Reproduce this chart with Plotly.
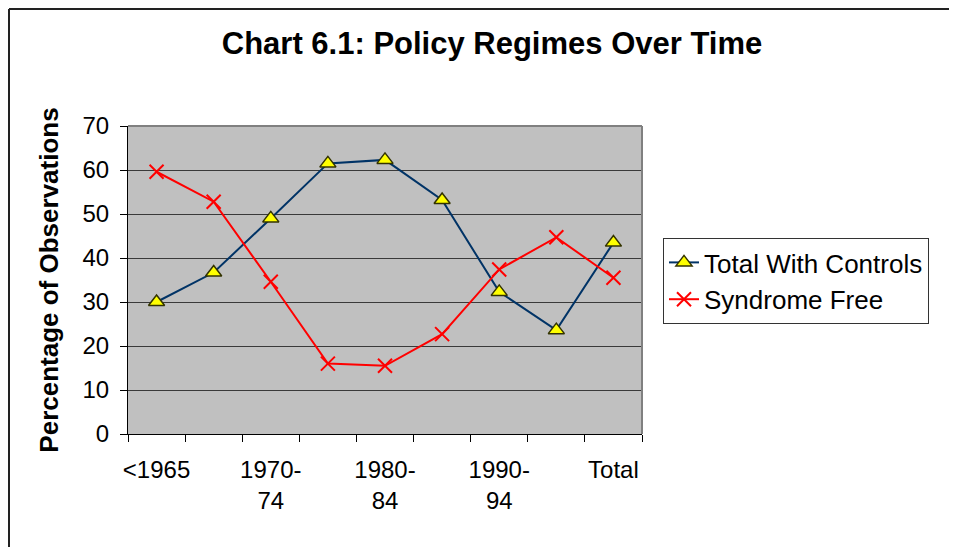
import plotly.graph_objects as go

categories = ["<1965", "1965-69", "1970-74", "1975-79", "1980-84",
              "1985-89", "1990-94", "1995-99", "Total"]
tick_text = ["<1965", "", "1970-<br>74", "", "1980-<br>84",
             "", "1990-<br>94", "", "Total"]
with_controls = [30.0, 36.7, 49.0, 61.5, 62.3, 53.2, 32.3, 23.6, 43.5]
syndrome_free = [59.6, 52.8, 34.6, 16.0, 15.5, 22.7, 37.4, 44.7, 35.5]

OFF = 8                      # page body margin
W, H = 957 - OFF, 547 - OFF
L, R, T, B = 128 - OFF, 642 - OFF, 126 - OFF, 434 - OFF   # plot area


def px_x(x):
    return (x - OFF - L) / (R - L)


def px_y(y):
    return (B - (y - OFF)) / (B - T)


fig = go.Figure()

fig.add_trace(go.Scatter(
    x=categories, y=with_controls, name="Total With Controls",
    mode="lines+markers",
    line=dict(color="#003366", width=2),
    marker=dict(symbol="triangle-up", size=14, color="#FFFF00",
                line=dict(color="#333300", width=1.5)),
))
fig.add_trace(go.Scatter(
    x=categories, y=syndrome_free, name="Syndrome Free",
    mode="lines+markers",
    line=dict(color="#FF0000", width=2),
    marker=dict(symbol="x-thin-open", size=14, color="#FF0000",
                line=dict(color="#FF0000", width=2)),
))

fig.update_layout(
    width=W, height=H,
    margin=dict(l=L, r=W - R, t=T, b=H - B, pad=0),
    paper_bgcolor="white",
    plot_bgcolor="#C0C0C0",
    font=dict(family="Liberation Sans, Arial", color="black"),
    title=dict(text="<b>Chart 6.1: Policy Regimes Over Time</b>",
               font=dict(size=31, color="black"),
               x=(492 - OFF) / W, xref="container", xanchor="center",
               y=1 - (43 - OFF) / H, yref="container", yanchor="middle"),
    showlegend=True,
    legend=dict(x=px_x(663), y=px_y(238), xanchor="left", yanchor="top",
                bgcolor="white", bordercolor="#333333", borderwidth=1,
                font=dict(size=26), tracegroupgap=0),
)

fig.update_xaxes(
    type="category",
    tickmode="array", tickvals=categories, ticktext=tick_text,
    tickson="boundaries", tickangle=0,
    ticks="outside", ticklen=7, tickcolor="black", tickwidth=1,
    showline=True, linecolor="black", linewidth=1,
    showgrid=False,
    tickfont=dict(size=24),
    ticklabelstandoff=14,
    range=[-0.5, 8.5],
)
fig.update_yaxes(
    range=[0, 70], dtick=10,
    ticks="outside", ticklen=7, tickcolor="black", tickwidth=1,
    showline=True, linecolor="black", linewidth=1,
    showgrid=True, gridcolor="#3A3A3A", gridwidth=1,
    zeroline=False,
    tickfont=dict(size=24),
    ticklabelstandoff=6,
    title=dict(text="<b>Percentage of Observations</b>",
               font=dict(size=26), standoff=16),
)

# plot area border on top and right
fig.add_shape(type="line", xref="paper", yref="paper", x0=0, x1=1, y0=1, y1=1,
              line=dict(color="#808080", width=2), layer="above")
fig.add_shape(type="line", xref="paper", yref="paper", x0=1, x1=1, y0=0, y1=1,
              line=dict(color="#808080", width=2), layer="above")

# outer chart frame (left and top edges visible)
fig.add_shape(type="line", xref="paper", yref="paper",
              x0=px_x(9), x1=px_x(9), y0=px_y(9), y1=px_y(547 + 5),
              line=dict(color="#222222", width=2))
fig.add_shape(type="line", xref="paper", yref="paper",
              x0=px_x(9), x1=px_x(957 + 5), y0=px_y(9), y1=px_y(9),
              line=dict(color="#222222", width=2))

fig.write_html("out.html")
